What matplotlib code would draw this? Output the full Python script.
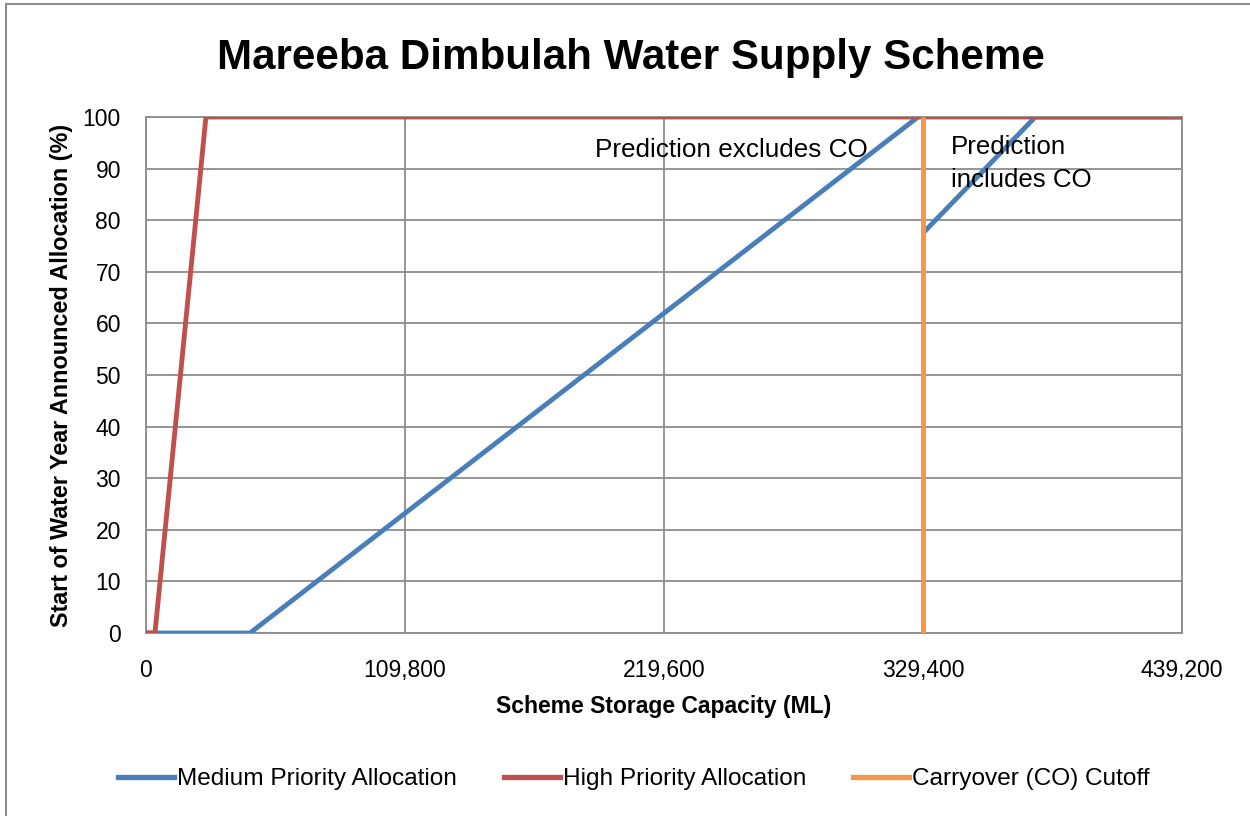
import matplotlib
matplotlib.use('Agg')
import matplotlib.pyplot as plt
from matplotlib.lines import Line2D
import numpy as np

plt.rcParams['font.family'] = ['Liberation Sans', 'DejaVu Sans']

# ── data ──
medium_excl_x = [0, 44100, 327300]
medium_excl_y = [0, 0, 100]
medium_incl_x = [329400, 377000, 439200]
medium_incl_y = [77.5, 100, 100]
high_x = [0, 3800, 25400, 439200]
high_y = [0, 0, 100, 100]
cutoff_x = [329400, 329400]
cutoff_y = [0, 100]

x_ticks = [0, 109800, 219600, 329400, 439200]
y_ticks = list(range(0, 101, 10))

BLUE = '#4A7EBB'
RED = '#C0504D'
ORANGE = '#F79646'
GRID = '#8C8C8C'

fig = plt.figure(figsize=(12.5, 8.16), dpi=100)
ax = fig.add_axes([146 / 1250, 1 - 633 / 816, 1036 / 1250, 516 / 816])

ax.plot(medium_excl_x, medium_excl_y, color=BLUE, lw=3.5, solid_capstyle='butt', zorder=3)
ax.plot(medium_incl_x, medium_incl_y, color=BLUE, lw=3.5, solid_capstyle='butt', zorder=3)
ax.plot(high_x, high_y, color=RED, lw=3.5, solid_capstyle='butt', zorder=4)
ax.plot(cutoff_x, cutoff_y, color=ORANGE, lw=3.5, solid_capstyle='butt', zorder=5)

ax.set_xlim(0, 439200)
ax.set_ylim(0, 100)
ax.set_xticks(x_ticks)
ax.set_xticklabels([f'{v:,}' for v in x_ticks])
ax.set_yticks(y_ticks)
ax.tick_params(axis='both', length=0, labelsize=16.5)
ax.tick_params(axis='x', pad=19)
ax.tick_params(axis='y', pad=18)
ax.grid(True, color=GRID, lw=1.3)
ax.set_axisbelow(True)
for s in ax.spines.values():
    s.set_color(GRID)
    s.set_linewidth(1.3)

ax.set_xlabel('Scheme Storage Capacity (ML)', fontsize=16.5, fontweight='bold', labelpad=9)
ax.set_ylabel('Start of Water Year Announced Allocation (%)', fontsize=16.8,
              fontweight='bold', labelpad=7)

ax.text(190400, 93.6, 'Prediction excludes CO', fontsize=18.8, va='center', ha='left')
ax.text(341300, 91.0, 'Prediction\nincludes CO', fontsize=18.6, va='center', ha='left',
        linespacing=1.5)

fig.text(631 / 1250, 1 - 58 / 816, 'Mareeba Dimbulah Water Supply Scheme',
         fontsize=30.3, fontweight='bold', ha='center', va='center')

handles = [Line2D([], [], color=BLUE, lw=3.8),
           Line2D([], [], color=RED, lw=3.8),
           Line2D([], [], color=ORANGE, lw=3.8)]
labels = ['Medium Priority Allocation', 'High Priority Allocation', 'Carryover (CO) Cutoff']
fig.legend(handles, labels, loc='center', bbox_to_anchor=(0.507, 1 - 779 / 816), ncol=3,
           frameon=False, fontsize=17.6, handlelength=2.3, handletextpad=0.12,
           columnspacing=1.9)

# outer chart-area border (left and top edges visible)
fig.add_artist(Line2D([6 / 1250, 6 / 1250], [0, 1 - 4 / 816], color='#8C8C8C', lw=1.5,
                      transform=fig.transFigure))
fig.add_artist(Line2D([6 / 1250, 1], [1 - 4 / 816, 1 - 4 / 816], color='#8C8C8C', lw=1.5,
                      transform=fig.transFigure))

fig.savefig('out.png', dpi=100)
